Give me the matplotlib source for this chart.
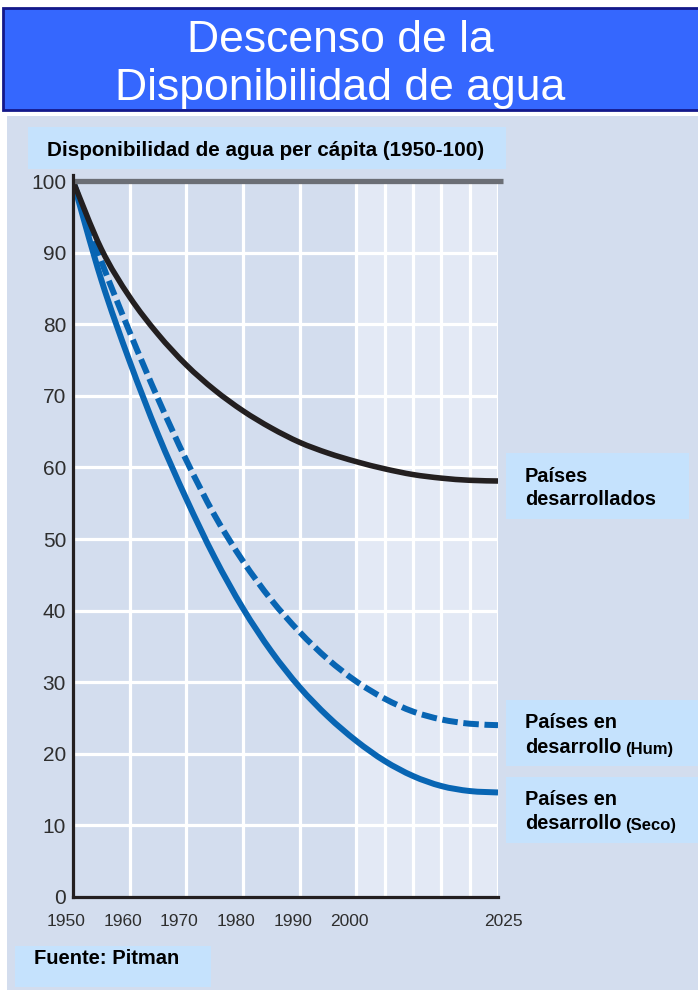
import matplotlib
matplotlib.use("Agg")
import matplotlib.pyplot as plt
from matplotlib.patches import Rectangle, PathPatch
from matplotlib.path import Path
import matplotlib.transforms as mtransforms
import numpy as np

plt.rcParams['font.family'] = ['Liberation Sans', 'DejaVu Sans']

# ---- data -------------------------------------------------------------
years = [1950, 1955, 1960, 1965, 1970, 1975, 1980, 1985, 1990, 1995,
         2000, 2005, 2010, 2015, 2020, 2025]
desarrollados = [100, 90.5, 83.8, 78.6, 74.3, 70.8, 67.9, 65.5, 63.5, 62.0,
                 60.8, 59.8, 59.0, 58.5, 58.2, 58.1]
desarrollo_hum = [100, 88.8, 78.9, 69.6, 61.0, 53.3, 46.9, 41.5, 37.0, 33.2,
                  30.1, 27.7, 25.9, 24.8, 24.2, 24.0]
desarrollo_seco = [100, 86.2, 74.8, 64.6, 55.6, 47.4, 40.3, 34.3, 29.3, 25.2,
                   21.8, 19.0, 16.9, 15.5, 14.8, 14.6]

xtick_years = [1950, 1960, 1970, 1980, 1990, 2000, 2025]
ytick_values = [0, 10, 20, 30, 40, 50, 60, 70, 80, 90, 100]
vgrid_years = [1960, 1970, 1980, 1990, 2000, 2005, 2010, 2015, 2020, 2025]

title_lines = ["Descenso de la", "Disponibilidad de agua"]
subtitle = "Disponibilidad de agua per cápita (1950-100)"
source = "Fuente: Pitman"

# ---- colours ----------------------------------------------------------
PANEL = '#D3DDEE'
LIGHT = '#E3E9F5'
BOX = '#C5E2FD'
TITLE_BG = '#3567FE'
TITLE_EDGE = '#14188A'
BLUE = '#0865B3'
BLACK = '#231F20'
TOPLINE = '#6B6E75'

W, H = 698, 993
fig = plt.figure(figsize=(W / 100, H / 100), dpi=100, facecolor='white')


def fx(x):
    return x / W


def fy(y):
    return 1 - y / H


def box(x0, y0, x1, y1, color, z=-5, **kw):
    fig.patches.append(Rectangle((fx(x0), fy(y1)), fx(x1 - x0), (y1 - y0) / H,
                                 transform=fig.transFigure, facecolor=color,
                                 zorder=z, **kw))


def smooth_path(xs, ys):
    """Catmull-Rom curve through the points, as cubic Bezier segments."""
    pts = np.column_stack([xs, ys]).astype(float)
    ext = np.vstack([pts[0], pts, pts[-1]])
    verts = [pts[0]]
    codes = [Path.MOVETO]
    for i in range(1, len(ext) - 2):
        p0, p1, p2, p3 = ext[i - 1], ext[i], ext[i + 1], ext[i + 2]
        verts += [p1 + (p2 - p0) / 6, p2 - (p3 - p1) / 6, p2]
        codes += [Path.CURVE4] * 3
    return Path(verts, codes)


# background panel and header
box(7, 116, 700, 990, PANEL, z=-10)
box(3, 8, 702, 110, TITLE_BG, z=-6, edgecolor=TITLE_EDGE, linewidth=2)
fig.text(fx(340), fy(52), title_lines[0], color='white', fontsize=32,
         ha='center', va='baseline')
fig.text(fx(340), fy(100), title_lines[1], color='white', fontsize=32,
         ha='center', va='baseline')

box(28, 127, 506, 169, BOX)
fig.text(fx(266), fy(156), subtitle, fontsize=14.9, fontweight='bold',
         ha='center', va='baseline', color='black')

# ---- axes -------------------------------------------------------------
ax = fig.add_axes([fx(73), fy(897), fx(498 - 73), (897 - 181) / H])
ax.set_facecolor(PANEL)
ax.set_xlim(1950, 2025)
ax.set_ylim(0, 100)
ax.axvspan(2000, 2025, color=LIGHT, zorder=0, lw=0)

ax.vlines(vgrid_years, 0, 100, colors='white', linewidth=2.3, zorder=1)
ax.hlines(ytick_values[1:-1], 1950, 2025, colors='white', linewidth=2.3, zorder=1)

ax.add_patch(PathPatch(smooth_path(years, desarrollados), fill=False,
                       edgecolor=BLACK, lw=4.0, zorder=4,
                       capstyle='butt', joinstyle='round'))
ax.add_patch(PathPatch(smooth_path(years, desarrollo_hum), fill=False,
                       edgecolor=BLUE, lw=4.3, zorder=3,
                       linestyle=(0, (2.6, 0.95)),
                       capstyle='butt', joinstyle='round'))
ax.add_patch(PathPatch(smooth_path(years, desarrollo_seco), fill=False,
                       edgecolor=BLUE, lw=4.3, zorder=3,
                       capstyle='butt', joinstyle='round'))

# heavy grey rule along the 100 level
ax.plot([1950, 2025.9], [100, 100], color=TOPLINE, lw=3.8, zorder=5,
        clip_on=False, solid_capstyle='butt')

for s in ('top', 'right'):
    ax.spines[s].set_visible(False)
for s in ('left', 'bottom'):
    ax.spines[s].set_color(BLACK)
    ax.spines[s].set_linewidth(2.3)
    ax.spines[s].set_zorder(6)
ax.spines['left'].set_bounds(0, 100.8)

ax.set_yticks(ytick_values)
ax.set_yticklabels([str(v) for v in ytick_values])
ax.set_xticks(xtick_years)
ax.set_xticklabels([str(v) for v in xtick_years])
ax.tick_params(length=0)
ax.tick_params(axis='y', pad=5, labelsize=15, labelcolor='#2e2e2e')
ax.tick_params(axis='x', pad=12, labelcolor='#2e2e2e', labelsize=12.5)
for lbl, yr in zip(ax.get_xticklabels(), xtick_years):
    dx = 5 if yr == 2025 else -7
    lbl.set_transform(lbl.get_transform() +
                      mtransforms.ScaledTranslation(dx / 100, 0, fig.dpi_scale_trans))


# ---- series labels ------------------------------------------------------
def series_label(y0, y1, x1, line1, line2, note, base1, base2):
    box(506, y0, x1, y1, BOX)
    fig.text(fx(525), fy(base1), line1, fontsize=14.4, fontweight='bold',
             va='baseline', ha='left')
    t = fig.text(fx(525), fy(base2), line2, fontsize=14.4, fontweight='bold',
                 va='baseline', ha='left')
    if note:
        ann = matplotlib.text.Annotation(
            note, xy=(1, 0), xycoords=t, xytext=(3, 0),
            textcoords='offset points', fontsize=12, fontweight='bold',
            va='bottom', ha='left')
        ann.set_figure(fig)
        fig.texts.append(ann)


series_label(453, 519, 689, 'Países', 'desarrollados', None, 482, 505)
series_label(700, 766, 702, 'Países en', 'desarrollo', '(Hum)', 728, 753)
series_label(777, 843, 702, 'Países en', 'desarrollo', '(Seco)', 805, 829)

box(15, 946, 211, 987, BOX)
fig.text(fx(34), fy(964), source, fontsize=14.5, fontweight='bold',
         va='baseline', ha='left')

fig.savefig('out.png', dpi=100, facecolor='white')
